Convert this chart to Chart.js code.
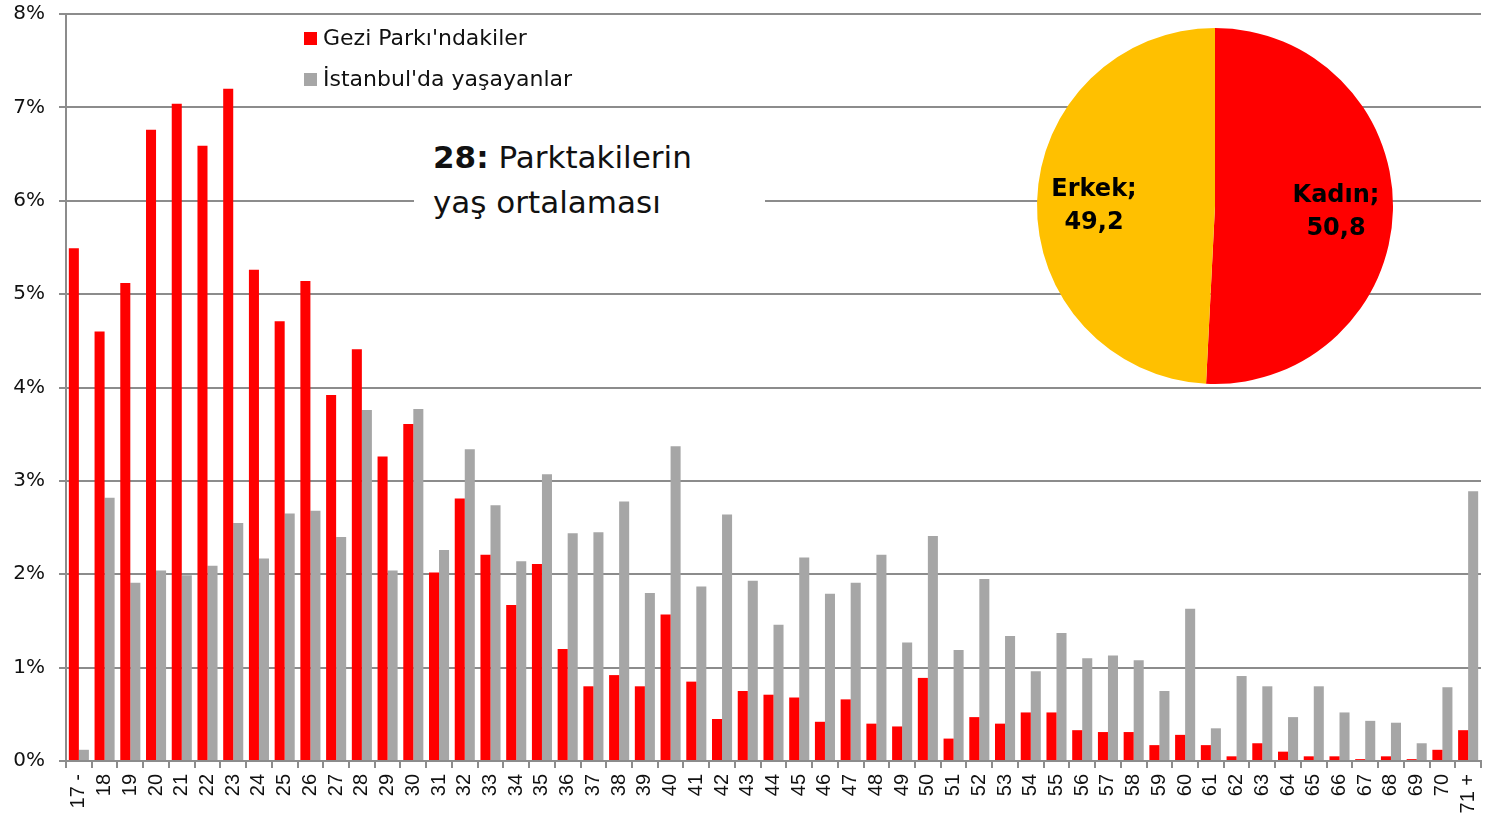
<!DOCTYPE html>
<html lang="tr">
<head>
<meta charset="utf-8">
<title>Gezi Parkı yaş dağılımı</title>
<script src="https://cdn.jsdelivr.net/npm/chart.js@4.4.1/dist/chart.umd.min.js"></script>
<style>
    body { margin: 0; background: #fff; }
    #sahne { position: relative; width: 1503px; height: 815px; overflow: hidden; font-family: "DejaVu Sans", sans-serif; }
    /* canvas 12px yukarı kaydırıldı: 8% çizgisi y=12'de olsun */
    #kutuBar { position: absolute; left: 0; top: -12px; width: 1503px; height: 827px; }
    #kutuPasta { position: absolute; left: 1025px; top: 16px; width: 380px; height: 380px; }
    .lejant { position: absolute; left: 304px; font-size: 22px; color: #111; line-height: 1; white-space: nowrap; }
    .lejant span { display: inline-block; width: 13px; height: 13px; margin-right: 6px; }
    #notKutusu { position: absolute; left: 414px; top: 132px; width: 351px; height: 92px; background: #fff; }
    #notKutusu div { position: absolute; left: 19px; font-size: 31px; color: #111; white-space: nowrap; line-height: 1; }
</style>
</head>
<body>
<div id="sahne">
    <div id="kutuBar"><canvas id="graficoYas"></canvas></div>
    <div class="lejant" style="top: 27px;"><span style="background:#ff0000"></span>Gezi Parkı'ndakiler</div>
    <div class="lejant" style="top: 68px;"><span style="background:#a6a6a6"></span>İstanbul'da yaşayanlar</div>
    <div id="notKutusu">
        <div style="top: 10px;"><b style="font-weight:900">28:</b> Parktakilerin</div>
        <div style="top: 55px;">yaş ortalaması</div>
    </div>
    <div id="kutuPasta"><canvas id="graficoCinsiyet"></canvas></div>
</div>
<script>
// yaş grupları
const yaslar = ['17 -', '18', '19', '20', '21', '22', '23', '24', '25', '26',
    '27', '28', '29', '30', '31', '32', '33', '34', '35', '36',
    '37', '38', '39', '40', '41', '42', '43', '44', '45', '46',
    '47', '48', '49', '50', '51', '52', '53', '54', '55', '56',
    '57', '58', '59', '60', '61', '62', '63', '64', '65', '66',
    '67', '68', '69', '70', '71 +'];

// % değerleri
const geziDegerleri = [5.49, 4.60, 5.12, 6.76, 7.04, 6.59, 7.20, 5.26, 4.71, 5.14,
    3.92, 4.41, 3.26, 3.61, 2.02, 2.81, 2.21, 1.67, 2.11, 1.20,
    0.80, 0.92, 0.80, 1.57, 0.85, 0.45, 0.75, 0.71, 0.68, 0.42,
    0.66, 0.40, 0.37, 0.89, 0.24, 0.47, 0.40, 0.52, 0.52, 0.33,
    0.31, 0.31, 0.17, 0.28, 0.17, 0.05, 0.19, 0.10, 0.05, 0.05,
    0.02, 0.05, 0.02, 0.12, 0.33];

const istanbulDegerleri = [0.12, 2.82, 1.91, 2.04, 1.99, 2.09, 2.55, 2.17, 2.65, 2.68,
    2.40, 3.76, 2.04, 3.77, 2.26, 3.34, 2.74, 2.14, 3.07, 2.44,
    2.45, 2.78, 1.80, 3.37, 1.87, 2.64, 1.93, 1.46, 2.18, 1.79,
    1.91, 2.21, 1.27, 2.41, 1.19, 1.95, 1.34, 0.96, 1.37, 1.10,
    1.13, 1.08, 0.75, 1.63, 0.35, 0.91, 0.80, 0.47, 0.80, 0.52,
    0.43, 0.41, 0.19, 0.79, 2.89];

const cinsiyetler = ['Kadın', 'Erkek'];
const cinsiyetDegerleri = [50.8, 49.2];

const yEksenMin = 0;
const yEksenMax = 8;

const cizgiRengi = '#8c8c8c';

// 1. Gráfico de barras: yaş dağılımı
const ctxYas = document.getElementById('graficoYas');
new Chart(ctxYas.getContext('2d'), {
    type: 'bar',
    data: {
        labels: yaslar,
        datasets: [{
            label: "Gezi Parkı'ndakiler",
            data: geziDegerleri,
            backgroundColor: '#ff0000',
            barPercentage: 1.0,
            categoryPercentage: 0.78
        }, {
            label: "İstanbul'da yaşayanlar",
            data: istanbulDegerleri,
            backgroundColor: '#a6a6a6',
            barPercentage: 1.0,
            categoryPercentage: 0.78
        }]
    },
    options: {
        responsive: true,
        maintainAspectRatio: false,
        animation: false,
        layout: { padding: { top: 0, right: 22, left: 0, bottom: 0 } },
        plugins: {
            legend: { display: false },
            tooltip: { enabled: false }
        },
        scales: {
            x: {
                grid: {
                    offset: true,
                    drawOnChartArea: false,
                    drawTicks: true,
                    tickLength: 7,
                    color: cizgiRengi,
                    lineWidth: 2
                },
                border: { color: cizgiRengi, width: 2 },
                ticks: {
                    minRotation: 90,
                    maxRotation: 90,
                    autoSkip: false,
                    padding: 6,
                    color: '#111',
                    font: { family: 'Liberation Sans', size: 20 }
                },
                afterFit: function (scale) { scale.height = 54; }
            },
            y: {
                min: yEksenMin,
                max: yEksenMax,
                grid: {
                    color: cizgiRengi,
                    lineWidth: 2,
                    tickLength: 7
                },
                border: { color: cizgiRengi, width: 2 },
                ticks: {
                    stepSize: 1,
                    padding: 14,
                    color: '#111',
                    font: { family: 'DejaVu Sans', size: 20 },
                    callback: function (v) { return v + '%'; }
                },
                afterFit: function (scale) { scale.width = 66; }
            }
        }
    }
});

// 2. Pasta: cinsiyet dağılımı, etiketler dilimin ortasında
const etiketEklentisi = {
    id: 'dilimEtiketleri',
    afterDatasetsDraw: function (chart) {
        const ctx = chart.ctx;
        const meta = chart.getDatasetMeta(0);
        ctx.save();
        ctx.fillStyle = '#000';
        ctx.font = 'bold 24px "DejaVu Sans"';
        ctx.textAlign = 'center';
        ctx.textBaseline = 'middle';
        meta.data.forEach(function (arc, i) {
            const p = arc.getProps(['x', 'y', 'startAngle', 'endAngle', 'outerRadius'], true);
            const orta = (p.startAngle + p.endAngle) / 2;
            const r = p.outerRadius * 0.68;
            const x = p.x + Math.cos(orta) * r;
            const y = p.y + Math.sin(orta) * r;
            const deger = chart.data.datasets[0].data[i].toFixed(1).replace('.', ',');
            ctx.fillText(chart.data.labels[i] + ';', x, y - 13);
            ctx.fillText(deger, x, y + 20);
        });
        ctx.restore();
    }
};

const ctxCinsiyet = document.getElementById('graficoCinsiyet');
new Chart(ctxCinsiyet.getContext('2d'), {
    type: 'pie',
    data: {
        labels: cinsiyetler,
        datasets: [{
            data: cinsiyetDegerleri,
            backgroundColor: ['#ff0000', '#ffc000'],
            borderWidth: 0
        }]
    },
    options: {
        responsive: true,
        maintainAspectRatio: false,
        animation: false,
        radius: 178,
        plugins: {
            legend: { display: false },
            tooltip: { enabled: false }
        }
    },
    plugins: [etiketEklentisi]
});
</script>
</body>
</html>
